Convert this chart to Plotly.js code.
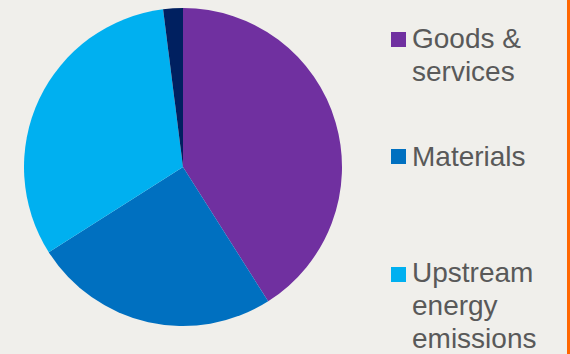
<!DOCTYPE html>
<html>
<head>
<meta charset="utf-8">
<script src="https://cdn.plot.ly/plotly-3.0.1.min.js"></script>
<style>html,body{margin:0;padding:0;background:#F0EFEB;}#chart{width:570px;height:354px;}</style>
</head>
<body>
<div id="chart"></div>
<script>
const labels = ['Goods & services', 'Materials', 'Upstream energy emissions', 'Other'];
const values = [41, 25, 32, 2];
const colors = ['#7030A0', '#0070C0', '#00B0F0', '#002060'];
const legendLines = [['Goods &', 'services'], ['Materials'], ['Upstream', 'energy', 'emissions']];

const W = 570, H = 354;
const bg = '#F0EFEB';
const textColor = '#595959';
const fontSize = 28;
const squareTops = [32, 149, 267];
const firstBaselines = [48, 166, 282];
const lineGap = 33;

const shapes = [];
const annotations = [];
legendLines.forEach((lines, i) => {
  shapes.push({type: 'rect', xref: 'x', yref: 'y', x0: 391, x1: 406,
    y0: squareTops[i], y1: squareTops[i] + 15, fillcolor: colors[i], line: {width: 0}});
  lines.forEach((t, j) => {
    annotations.push({xref: 'x', yref: 'y', x: 410, y: firstBaselines[i] + j * lineGap - 10,
      xanchor: 'left', yanchor: 'middle', text: t, showarrow: false,
      font: {family: 'Liberation Sans, Arial, sans-serif', size: fontSize, color: textColor}});
  });
});
shapes.push({type: 'rect', xref: 'x', yref: 'y', x0: 567, x1: 570, y0: 0, y1: H,
  fillcolor: '#FF6600', line: {width: 0}});

const data = [{
  type: 'pie', labels: labels, values: values, sort: false, direction: 'clockwise',
  rotation: 0, textinfo: 'none', hoverinfo: 'label+percent',
  marker: {colors: colors, line: {width: 0}},
  domain: {x: [24 / W, 342 / W], y: [1 - 326 / H, 1 - 8 / H]},
  showlegend: false
}];

const layout = {
  width: W, height: H, margin: {l: 0, r: 0, t: 0, b: 0},
  paper_bgcolor: bg, plot_bgcolor: 'rgba(0,0,0,0)', showlegend: false,
  xaxis: {range: [0, W], visible: false, fixedrange: true},
  yaxis: {range: [H, 0], visible: false, fixedrange: true},
  shapes: shapes, annotations: annotations
};
Plotly.newPlot('chart', data, layout, {displayModeBar: false, staticPlot: true});
</script>
</body>
</html>
